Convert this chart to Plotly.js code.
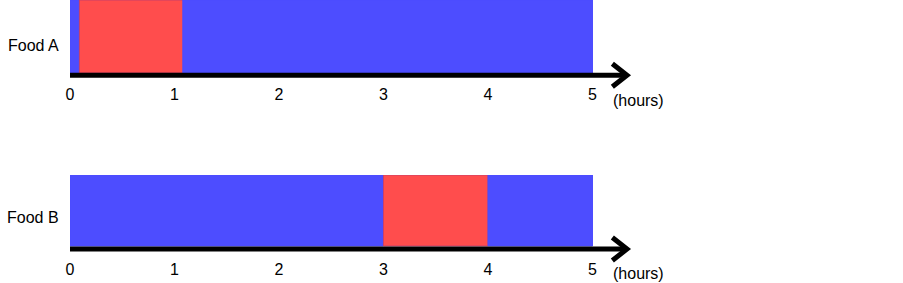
<!DOCTYPE html>
<html>
<head>
<meta charset="utf-8">
<script src="https://cdn.plot.ly/plotly-3.0.1.min.js"></script>
<style>html,body{margin:0;padding:0;background:#fff;}#chart{width:903px;height:283px;}</style>
</head>
<body>
<div id="chart"></div>
<script>
// ---- data ----
const categories = ['Food A', 'Food B'];
const segStartA = [0, 0.09, 1.08];
const segEndA   = [0.09, 1.08, 5];
const segPhaseA = ['other', 'peak', 'other'];
const segStartB = [0, 3, 4];
const segEndB   = [3, 4, 5];
const segPhaseB = ['other', 'peak', 'other'];
const tickValues = [0, 1, 2, 3, 4, 5];
const tickLabels = ['0', '1', '2', '3', '4', '5'];
const unitLabel = '(hours)';
const axisEnd = 5.33;

// ---- styles ----
const W = 903, H = 283;
const phaseColor = {other: '#4d4dff', peak: '#ff4d4d'};
const phaseLine = {other: '#4d4dff', peak: '#c8406a'};
const FONT = 'Liberation Sans, Arial, sans-serif';
const FS = 16;
const fy = px => 1 - px / H;

const traces = [];
function addRow(cat, starts, ends, phases, xa, ya) {
  starts.forEach((s, i) => {
    traces.push({
      type: 'bar', orientation: 'h',
      y: [cat], x: [ends[i] - s], base: [s],
      width: [1],
      xaxis: xa, yaxis: ya,
      marker: {color: phaseColor[phases[i]], line: {color: phaseLine[phases[i]], width: 1}},
      hoverinfo: 'skip', showlegend: false
    });
  });
}
addRow(categories[0], segStartA, segEndA, segPhaseA, 'x', 'y');
addRow(categories[1], segStartB, segEndB, segPhaseB, 'x2', 'y2');

const xRange = [0, 570 / 104.5];
const xCommon = {
  range: xRange, showgrid: false, zeroline: false, showline: false,
  tickvals: tickValues, ticktext: tickLabels, ticks: '', ticklabelstandoff: 3,
  tickfont: {family: FONT, size: FS, color: '#000'}, fixedrange: true
};
const yCommon = {showgrid: false, zeroline: false, showline: false, showticklabels: false, ticks: '', fixedrange: true};

// rows in pixel terms: [barTop, barBottom, lineY]
const rows = [[0, 73, 75.2], [175, 246, 249]];
const domBottom = [80, 255];

const shapes = [];
const annotations = [];
rows.forEach((r, i) => {
  const xr = i === 0 ? 'x' : 'x2';
  const ly = fy(r[2]);
  shapes.push({type: 'line', xref: xr, yref: 'paper', x0: 0, x1: axisEnd - 0.02, y0: ly, y1: ly,
    line: {color: '#000', width: 5}});
  shapes.push({type: 'path', xref: xr, yref: 'paper',
    path: `M ${axisEnd - 0.14} ${fy(r[2] - 11.5)} L ${axisEnd} ${ly} L ${axisEnd - 0.14} ${fy(r[2] + 11.5)}`,
    line: {color: '#000', width: 5}});
  annotations.push({xref: 'paper', yref: 'paper', x: (33 - 70) / 570, y: fy(i === 0 ? 45 : 217),
    text: categories[i], showarrow: false, xanchor: 'center', yanchor: 'middle',
    font: {family: FONT, size: FS, color: '#000'}});
  annotations.push({xref: 'paper', yref: 'paper', x: (638 - 70) / 570, y: fy(i === 0 ? 100 : 273),
    text: unitLabel, showarrow: false, xanchor: 'center', yanchor: 'middle',
    font: {family: FONT, size: FS, color: '#000'}});
});

const layout = {
  width: W, height: H,
  margin: {l: 70, r: 263, t: 0, b: 0, pad: 0},
  paper_bgcolor: '#fff', plot_bgcolor: '#fff',
  barmode: 'overlay', bargap: 0,
  showlegend: false,
  xaxis: Object.assign({}, xCommon, {anchor: 'y'}),
  xaxis2: Object.assign({}, xCommon, {anchor: 'y2'}),
  yaxis: Object.assign({}, yCommon, {domain: [fy(domBottom[0]), fy(0)], range: [0.5 - domBottom[0] / 73, 0.5], anchor: 'x'}),
  yaxis2: Object.assign({}, yCommon, {domain: [fy(domBottom[1]), fy(175)], range: [0.5 - (domBottom[1] - 175) / 71, 0.5], anchor: 'x2'}),
  shapes: shapes,
  annotations: annotations
};

Plotly.newPlot('chart', traces, layout, {displayModeBar: false, staticPlot: true});
</script>
</body>
</html>
